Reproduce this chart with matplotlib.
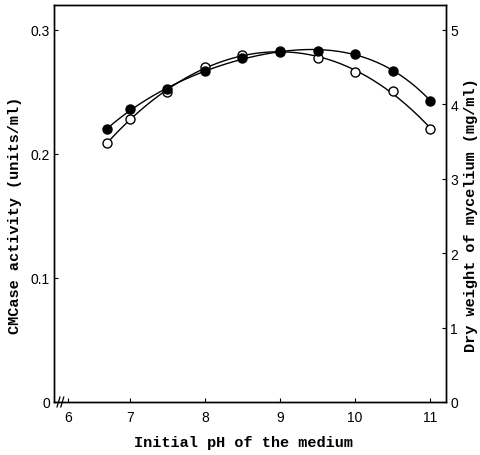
import numpy as np
import matplotlib
matplotlib.use("Agg")
import matplotlib.pyplot as plt

# Data
ph = [6.7, 7.0, 7.5, 8.0, 8.5, 9.0, 9.5, 10.0, 10.5, 11.0]
cmcase_activity = [0.209, 0.228, 0.250, 0.270, 0.280, 0.283, 0.277, 0.266, 0.251, 0.220]   # open circles (units/ml)
dry_weight = [3.67, 3.93, 4.20, 4.45, 4.62, 4.70, 4.72, 4.68, 4.45, 4.05]                  # filled circles (mg/ml)

x_ticks = [6.18, 7, 8, 9, 10, 11]
x_tick_labels = ["6", "7", "8", "9", "10", "11"]
left_ticks = [0, 0.1, 0.2, 0.3]
left_tick_labels = ["0", "0.1", "0.2", "0.3"]
right_ticks = [0, 1, 2, 3, 4, 5]
right_tick_labels = ["0", "1", "2", "3", "4", "5"]

fig = plt.figure(figsize=(4.8, 4.56), dpi=100)
ax = fig.add_axes([54/480, 1-403/456, (446-54)/480, (403-6)/456])
ax2 = ax.twinx()

ax.set_xlim(5.99, 11.21)
ax.set_ylim(0, 0.32)
ax2.set_ylim(0, 0.32 * 50 / 3)

def smooth(x, y, deg=3):
    x = np.asarray(x); y = np.asarray(y)
    c = np.polyfit(x, y, deg)
    xs = np.linspace(x.min(), x.max(), 200)
    return xs, np.polyval(c, xs)

xs, ys = smooth(ph, cmcase_activity, 4)
ax.plot(xs, ys, color="black", lw=1.0, zorder=2)
ax.plot(ph, cmcase_activity, "o", ms=6.5, mfc="white", mec="black", mew=1.0, zorder=3)

xs2, ys2 = smooth(ph, dry_weight, 4)
ax2.plot(xs2, ys2, color="black", lw=1.0, zorder=2)
ax2.plot(ph, dry_weight, "o", ms=6.5, mfc="black", mec="black", mew=1.0, zorder=3)

tick_font = {"family": "Liberation Sans", "size": 10}
ax.set_xticks(x_ticks)
ax.set_xticklabels(x_tick_labels, **tick_font)
ax.set_yticks(left_ticks)
ax.set_yticklabels(left_tick_labels, **tick_font)
ax2.set_yticks(right_ticks)
ax2.set_yticklabels(right_tick_labels, **tick_font)

ax.tick_params(axis="both", direction="in", length=3, width=0.8, pad=3)
ax.tick_params(axis="x", pad=6)
ax2.tick_params(axis="y", direction="in", length=3, width=0.8, pad=3)

for a in (ax, ax2):
    for s in a.spines.values():
        s.set_linewidth(1.0)

# axis break marks near the origin
for xb in (6.05, 6.10):
    ax.plot([xb - 0.02, xb + 0.02], [-0.004, 0.004], color="black", lw=0.9,
            clip_on=False, zorder=4)

label_font = {"family": "Liberation Mono", "weight": "bold", "size": 11}
fig.text(243/480, 1-443/456, "Initial pH of the medium",
         ha="center", va="center", **label_font)
fig.text(15/480, 1-215/456, "CMCase activity (units/ml)", rotation=90,
         ha="center", va="center", **label_font)
fig.text(471/480, 1-215/456, "Dry weight of mycelium (mg/ml)", rotation=90,
         ha="center", va="center", **label_font)

fig.savefig("out.png", dpi=100)
